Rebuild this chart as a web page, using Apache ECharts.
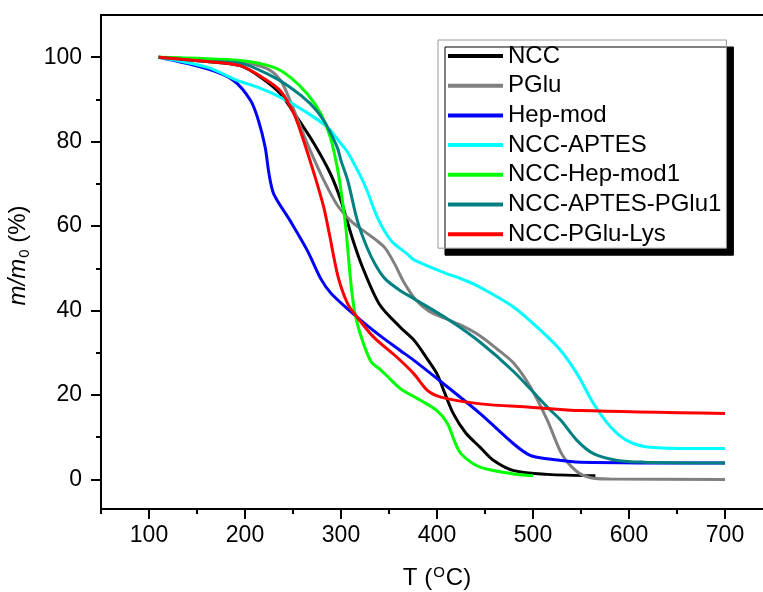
<!DOCTYPE html>
<html>
<head>
<meta charset="utf-8">
<script src="https://cdn.jsdelivr.net/npm/echarts@6/dist/echarts.min.js"></script>
<style>
html,body{margin:0;padding:0;background:#fff;}
#chart{width:763px;height:592px;}
</style>
</head>
<body>
<div id="chart"></div>
<script>
// ---- data (T in °C, m/m0 in %) ----
const seriesNames = ['NCC','PGlu','Hep-mod','NCC-APTES','NCC-Hep-mod1','NCC-APTES-PGlu1','NCC-PGlu-Lys'];
const seriesColors = ['#000000','#808080','#0000ff','#00ffff','#00ff00','#008080','#ff0000'];

const ncc = [[110,100],[160,99],[195,98],[216,95.3],[237,91.3],[254,85.8],[272,79.5],[289,72.4],[300,66],[312,57],[322,50.5],[340,41.5],[362,36],[376,33],[390,28.5],[400,25],[408,20.5],[417,15.6],[430,11],[445,7.6],[459,4.5],[480,2.1],[515,1.2],[565,0.9]];
const pglu = [[110,100],[195,98.8],[223,97.3],[237,94.5],[247,89.7],[258,83.4],[268,77.9],[282,70.9],[296,65],[310,61.3],[324,58.8],[336,56.8],[346,54.8],[356,51],[366,46.5],[378,42.5],[392,39.8],[410,38],[428,36.2],[445,34],[462,31],[480,27.5],[497,22],[515,14],[530,6],[545,2],[560,0.4],[580,0.1],[700,0]];
const hepmod = [[110,100],[160,97.3],[188,94.5],[206,89.7],[214,85],[221,78.7],[225,72.4],[230,67.6],[247,61.3],[265,54.2],[279,47.5],[290,44],[317,38.4],[341,34],[362,30.5],[376,28.2],[411,21.9],[445,15.6],[480,8.4],[497,5.7],[515,4.9],[550,4.1],[700,3.9]];
const nccAptes = [[110,100],[161,97.6],[192,94.5],[213,92.9],[237,90.5],[261,87.4],[286,83.4],[300,79.5],[307,77.5],[313,75],[320,72],[327,68.5],[338,62],[352,56.6],[369,53.4],[376,52],[404,49.3],[431,47],[445,45.5],[480,40.8],[508,35.3],[529,30.5],[546,25],[563,18],[581,12.4],[598,9.2],[622,7.6],[668,7.3],[700,7.3]];
const nccHepmod1 = [[110,100],[195,99.2],[230,97.6],[247,95.3],[265,91.3],[279,86.6],[289,81],[296,74],[300,68.4],[305,59.7],[308,52],[311,45],[314,40],[320,34.5],[331,28],[341,26],[348,24.5],[362,21.5],[383,18.7],[400,16.3],[411,13.2],[418,9.2],[425,6.1],[445,2.9],[480,1.3],[500,0.9]];
const nccAptesPglu1 = [[110,100],[160,99],[195,98.6],[223,96.1],[247,92.9],[268,89],[282,85],[296,78.7],[300,75.5],[307,70.8],[317,61.3],[327,55],[336,50.8],[346,47.5],[360,45],[376,42.8],[411,38],[445,32.5],[480,25.5],[515,17.1],[529,14],[546,9.2],[563,6.1],[588,4.5],[615,4.1],[700,3.9]];
const nccPgluLys = [[110,100],[160,99],[195,98],[223,94.5],[237,92],[251,86.6],[261,80.3],[272,72.4],[282,64.5],[288,58],[297,48],[307,41.6],[317,38.4],[334,33.7],[358,29],[376,25],[390,21.1],[404,19.5],[445,17.9],[497,17.1],[550,16.3],[700,15.6]];

const seriesData = [ncc, pglu, hepmod, nccAptes, nccHepmod1, nccAptesPglu1, nccPgluLys];

const xMajorTicks = [100,200,300,400,500,600,700];
const xMinorTicks = [50,150,250,350,450,550,650,750];
const yMajorTicks = [0,20,40,60,80,100];
const yMinorTicks = [10,30,50,70,90];

const FONT = '"Liberation Sans", Arial, sans-serif';

const chart = echarts.init(document.getElementById('chart'), null, {renderer:'canvas'});

const baseX = {
  type:'value', min:50, max:750, position:'bottom',
  splitLine:{show:false},
  axisLine:{show:true, onZero:false, lineStyle:{color:'#000', width:2}}
};
const baseY = {
  type:'value', min:-7, max:110, position:'left',
  splitLine:{show:false},
  axisLine:{show:true, onZero:false, lineStyle:{color:'#000', width:2}}
};

const option = {
  backgroundColor:'#fff',
  animation:false,
  grid:{left:101, top:15, width:672, height:494, outerBoundsMode:'none', containLabel:false,
        show:true, borderColor:'#000', borderWidth:2, backgroundColor:'transparent'},
  legend:{
    orient:'vertical', left:438, top:40,
    data:seriesNames,
    icon:'rect',
    itemWidth:55, itemHeight:4, itemGap:5.7,
    padding:[4,5,2,10],
    backgroundColor:'#fff', borderColor:'#999', borderWidth:1,
    shadowColor:'#000', shadowBlur:0, shadowOffsetX:7, shadowOffsetY:7,
    textStyle:{fontFamily:FONT, fontSize:24, color:'#000', lineHeight:24}
  },
  xAxis:[
    Object.assign({}, baseX, {
      name:'{a|T (}{sup|O}{a|C)}',
      nameLocation:'middle', nameGap:56,
      nameTextStyle:{fontFamily:FONT, fontSize:24, color:'#000',
        rich:{a:{fontFamily:FONT, fontSize:24, color:'#000'}, sup:{fontFamily:FONT, fontSize:15, color:'#000', padding:[0,1,12,1]}}},
      axisTick:{show:true, inside:false, length:10, lineStyle:{color:'#000', width:2}, customValues:xMajorTicks},
      axisLabel:{show:true, margin:15, fontFamily:FONT, fontSize:23, color:'#000', customValues:xMajorTicks}
    }),
    Object.assign({}, baseX, {
      axisTick:{show:true, inside:false, length:5, lineStyle:{color:'#000', width:2}, customValues:xMinorTicks},
      axisLabel:{show:false}
    })
  ],
  yAxis:[
    Object.assign({}, baseY, {
      name:'{i|m/m}{sub|0}{n| (%)}',
      nameLocation:'middle', nameGap:60, nameRotate:90,
      nameTextStyle:{fontFamily:FONT, fontSize:24, color:'#000',
        rich:{i:{fontFamily:FONT, fontSize:24, fontStyle:'italic', color:'#000', padding:[0,0,0,13]},
              sub:{fontFamily:FONT, fontSize:15, color:'#000', padding:[14,0,0,1]},
              n:{fontFamily:FONT, fontSize:24, color:'#000'}}},
      axisTick:{show:true, inside:false, length:10, lineStyle:{color:'#000', width:2}, customValues:yMajorTicks},
      axisLabel:{show:true, margin:19, fontFamily:FONT, fontSize:23, color:'#000', customValues:yMajorTicks}
    }),
    Object.assign({}, baseY, {
      axisTick:{show:true, inside:false, length:5, lineStyle:{color:'#000', width:2}, customValues:yMinorTicks},
      axisLabel:{show:false}
    })
  ],
  series: seriesNames.map((name, i) => ({
    name: name,
    type:'line',
    xAxisIndex:0, yAxisIndex:0,
    data: seriesData[i],
    showSymbol:false, symbol:'none',
    smooth:0.3,
    color: seriesColors[i],
    itemStyle:{color: seriesColors[i]},
    lineStyle:{color: seriesColors[i], width:3},
    z: 2
  }))
};
chart.setOption(option);
</script>
</body>
</html>
